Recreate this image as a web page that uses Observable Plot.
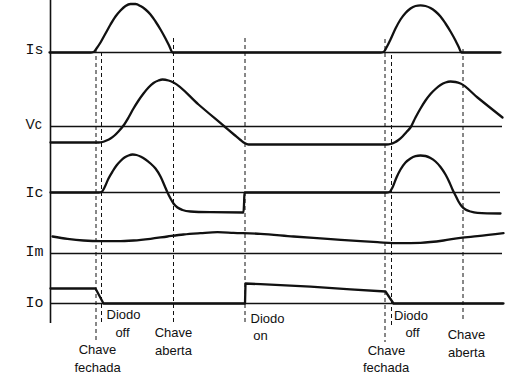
<!DOCTYPE html>
<html>
<head>
<meta charset="utf-8">
<script src="https://cdn.jsdelivr.net/npm/d3@7"></script>
<script src="https://cdn.jsdelivr.net/npm/@observablehq/plot@0.6"></script>
<style>
  html, body { margin: 0; padding: 0; background: #fff; }
  #chart svg { display: block; }
</style>
</head>
<body>
<div id="chart"></div>
<script>
// ---- Data (time t in arbitrary units, signal value v relative to its own baseline) ----
const channels   = ["Is", "Vc", "Ic", "Im", "Io"];
const baselines  = [326, 252, 186, 125, 75];     // vertical level of each trace's zero line
const lineEnds   = [450, 452, 450, 452, 453];    // time where each zero line stops
const labelDy    = [3, 2, 0, 2, 1];

const isWave = [[-1,0],[40,0],[43,0.5],[46,4],[50,10],[55,19],[60,28],[65,36],[70,42],[75,46.5],[80,48.5],[85,48.5],[90,46.5],
  [95,43],[100,38],[105,31],[110,23],[115,14],[119,6],[122,0],[126,0],
  [330,0],[333,0.5],[336,5],[340,13],[345,24],[350,33],[355,39.5],[360,44],[365,46.5],[370,47.2],[375,46.5],[380,44.5],
  [385,41],[390,36],[395,29],[400,21],[405,12],[408,6],[411,0],[415,0],[450,0]];
const vcWave = [[0,-16],[48,-16],[52,-15.5],[56,-14],[60,-12],[64,-9],[68,-5],[73,1],[78,9],[83,18],[88,26],[93,33],[98,39],
  [103,43.5],[108,46],[112,47],[118,46],[123,44],[148,22],[174,0],[184,-8.5],[190,-13.5],[194,-16.5],[198,-18],[204,-18],
  [336,-18],[340,-17.5],[344,-16],[348,-13.5],[352,-10],[356,-5.5],[360,-1],[365,9],[370,18],[375,26],[380,32.5],[385,37.5],
  [390,41.5],[395,44],[400,45],[405,44.5],[410,43],[427,29],[452,9]];
const icWave = [[0,0],[48,0],[51,0.5],[54,5],[58,14],[62,21],[66,27],[70,31.5],[74,35],[78,37],[82,38],[86,37.5],[90,36],
  [95,33],[100,29],[105,24],[110,16],[114,7],[117,0],[120,-6],[123,-11],[127,-15],[132,-17.5],[140,-19],[160,-19.7],[193,-20],
  [193.6,-10],[194,0],[200,0],
  [336,0],[339,0.5],[342,5],[346,15],[350,23],[355,30],[360,34],[365,36.3],[370,37],[375,36.5],[380,34.5],[385,31],[390,25.5],
  [395,18],[399,10],[402,3],[405,-3],[408,-9],[411,-13.5],[415,-17],[420,-19],[427,-20.3],[450,-21]];
const imWave = [[2,17],[17,14.7],[33,13],[50,12.3],[67,12.3],[83,13],[100,14.7],[117,17],[133,19],[150,20.3],[167,21.3],
  [183,20.7],[210,19.7],[243,17],[277,14.7],[310,12.3],[327,11.3],[350,10.3],[370,10.7],[393,13],[410,15.7],[427,17.3],[453,20.3]];
const ioWave = [[0,15],[45,15],[53,0],[194.5,0],[195,20],[210,19.3],[260,16.8],[300,14.2],[335,12],[343,0],[453,0]];

const eventTimes   = [45.5, 51, 123, 194.5, 334.5, 341, 412.5];
const eventTops    = [329, 326, 340, 340, 339, 323, 329];
const eventBottoms = [36, 55, 53, 53, 36, 53, 56];

const labelTexts = ["Chave","fechada","Diodo","off","Chave","aberta","Diodo","on","Chave","fechada","Diodo","off","Chave","aberta"];
const labelT     = [47, 47, 73, 72, 123, 123, 217, 210, 336, 335.5, 360.5, 362, 416, 416];
const labelV     = [28.5, 11, 64, 46, 46, 28, 60, 43, 28, 11, 63, 46, 44, 26];

// ---- Build tables ----
const waves = [isWave, vcWave, icWave, imWave, ioWave];
const smoothRows = [];
waves.slice(0, 4).forEach((w, i) => w.forEach(([t, v]) => smoothRows.push({ch: channels[i], t, y: baselines[i] + v})));
const ioRows = ioWave.map(([t, v]) => ({ch: "Io", t, y: baselines[4] + v}));
const zeroLines = channels.map((c, i) => ({ch: c, y: baselines[i], x2: lineEnds[i]}));
const leftLabels = channels.map((c, i) => ({text: c, y: baselines[i] + labelDy[i]}));
const events = eventTimes.map((t, i) => ({t, y1: eventTops[i], y2: eventBottoms[i]}));
const eventLabels = labelTexts.map((text, i) => ({text, t: labelT[i], y: labelV[i]}));

const ink = "#111";
const chart = Plot.plot({
  width: 520,
  height: 378,
  margin: 0,
  x: {domain: [-50, 470], axis: null},
  y: {domain: [0, 378], axis: null},
  style: {background: "#fff"},
  marks: [
    Plot.ruleX([0], {y1: 55, y2: 378, stroke: ink, strokeWidth: 1.6}),
    Plot.ruleY(zeroLines, {y: "y", x1: 0, x2: "x2", stroke: ink, strokeWidth: 1.6}),
    Plot.ruleX(events, {x: "t", y1: "y1", y2: "y2", stroke: ink, strokeWidth: 1, strokeDasharray: "4,3"}),
    Plot.line(smoothRows, {x: "t", y: "y", z: "ch", curve: "monotone-x", stroke: ink, strokeWidth: 2.3}),
    Plot.line(ioRows, {x: "t", y: "y", stroke: ink, strokeWidth: 2.3}),
    Plot.text(leftLabels.filter(d => d.text !== "Vc"), {x: -25, y: "y", text: "text", textAnchor: "start",
      fontFamily: "Liberation Mono", fontSize: 15, fill: ink}),
    Plot.text(leftLabels.filter(d => d.text === "Vc"), {x: -25, y: "y", text: "text", textAnchor: "start",
      fontFamily: "Liberation Sans", fontSize: 14, fill: ink}),
    Plot.text(eventLabels, {x: "t", y: "y", text: "text", textAnchor: "middle",
      fontFamily: "Liberation Sans", fontSize: 13, fill: ink})
  ]
});
document.getElementById("chart").appendChild(chart);
</script>
</body>
</html>
